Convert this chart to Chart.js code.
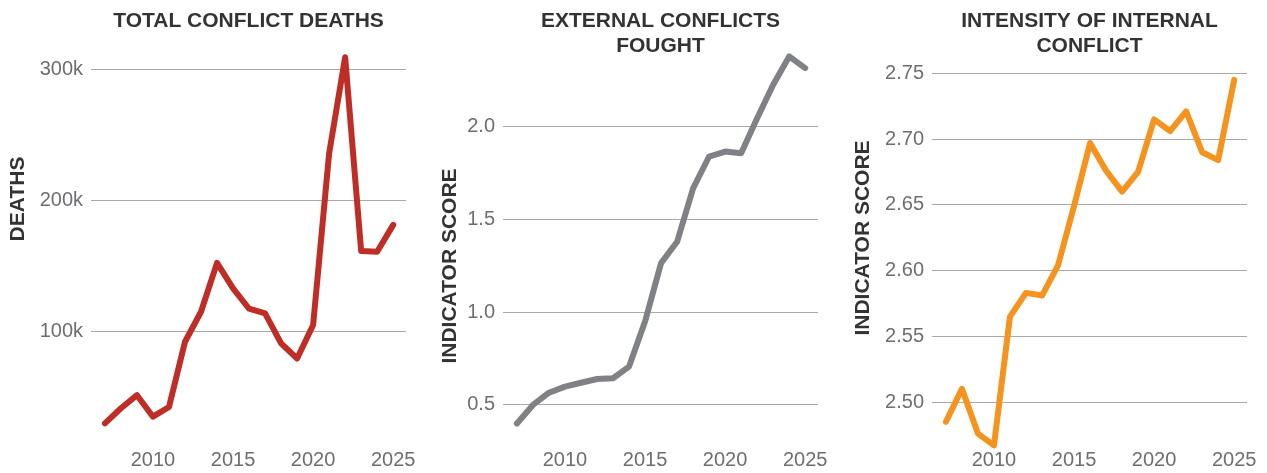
<!DOCTYPE html>
<html>
<head>
<meta charset="utf-8">
<script src="https://cdn.jsdelivr.net/npm/chart.js@4"></script>
<style>
  html, body { margin: 0; padding: 0; background: #fff; }
  body { width: 1267px; height: 473px; position: relative; overflow: hidden; }
  .panel { position: absolute; top: 0; height: 473px; }
</style>
</head>
<body>
<div class="panel" style="left:0;width:422px"><canvas id="chartDeaths"></canvas></div>
<div class="panel" style="left:422px;width:422px"><canvas id="chartExternal"></canvas></div>
<div class="panel" style="left:844px;width:423px"><canvas id="chartInternal"></canvas></div>
<script>
// ===== DATA =====
const years = [2007, 2008, 2009, 2010, 2011, 2012, 2013, 2014, 2015, 2016, 2017, 2018, 2019, 2020, 2021, 2022, 2023, 2024, 2025];
const yearTicks = [2010, 2015, 2020, 2025];

const deaths = [29500, 41000, 51000, 34600, 42000, 91800, 114700, 152000, 132600, 117000, 113500, 90600, 79000, 104600, 235600, 309000, 161000, 160500, 181000];
const externalScore = [0.40, 0.50, 0.566, 0.599, 0.62, 0.64, 0.644, 0.707, 0.95, 1.265, 1.38, 1.668, 1.84, 1.867, 1.858, 2.047, 2.227, 2.38, 2.317];
const internalScore = [2.485, 2.51, 2.476, 2.467, 2.565, 2.583, 2.581, 2.604, 2.649, 2.697, 2.676, 2.66, 2.675, 2.715, 2.706, 2.721, 2.69, 2.684, 2.745];

const deathTicks = [100000, 200000, 300000];
const externalTicks = [0.5, 1.0, 1.5, 2.0];
const internalTicks = [2.50, 2.55, 2.60, 2.65, 2.70, 2.75];

Chart.defaults.font.family = '"Liberation Sans", Arial, Helvetica, sans-serif';

// rotated axis title drawn where the original puts it
const sideLabel = {
  id: "sideLabel",
  afterDraw(chart, args, opts) {
    const ctx = chart.ctx;
    ctx.save();
    ctx.translate(opts.x, opts.y);
    ctx.rotate(-Math.PI / 2);
    ctx.font = 'bold 21px "Liberation Sans", Arial, sans-serif';
    ctx.fillStyle = "#333333";
    ctx.textAlign = "center";
    ctx.textBaseline = "middle";
    ctx.fillText(opts.text, 0, 0);
    ctx.restore();
  }
};

function makeChart(id, cfg) {
  const points = years.map((y, i) => ({ x: y, y: cfg.values[i] }));
  return new Chart(document.getElementById(id), {
    type: "line",
    data: {
      datasets: [{
        data: points,
        borderColor: cfg.color,
        borderWidth: 6,
        borderCapStyle: "round",
        borderJoinStyle: "round",
        pointRadius: 0,
        tension: 0,
        clip: false
      }]
    },
    plugins: [sideLabel],
    options: {
      responsive: true,
      maintainAspectRatio: false,
      animation: false,
      layout: { padding: { left: 0, right: cfg.right, top: 0, bottom: 0 } },
      plugins: {
        legend: { display: false },
        tooltip: { enabled: false },
        title: {
          display: true,
          text: cfg.title,
          fullSize: false,
          color: "#333333",
          font: { size: 21, weight: "bold", lineHeight: "25px" },
          padding: { top: 9, bottom: 0 }
        },
        sideLabel: { text: cfg.axisTitle, x: cfg.labelX, y: cfg.labelY }
      },
      scales: {
        x: {
          type: "linear",
          min: 2006.13,
          max: 2025.8,
          grid: { display: false, drawTicks: false },
          border: { display: false },
          afterBuildTicks: s => { s.ticks = yearTicks.map(v => ({ value: v })); },
          ticks: {
            color: "#6d6e71",
            font: { size: 20, lineHeight: 0.9 },
            padding: 4,
            maxRotation: 0,
            callback: v => String(v)
          }
        },
        y: {
          min: cfg.min,
          max: cfg.max,
          afterFit: s => { s.width = cfg.axisWidth; },
          afterBuildTicks: s => { s.ticks = cfg.ticks.map(v => ({ value: v })); },
          grid: { color: "#a7a9ac", lineWidth: 1, drawTicks: false },
          border: { display: false },
          ticks: {
            color: "#6d6e71",
            font: { size: 20 },
            padding: 8,
            callback: cfg.fmt
          }
        }
      }
    }
  });
}

makeChart("chartDeaths", {
  title: ["TOTAL CONFLICT DEATHS", ""],
  axisTitle: "DEATHS",
  values: deaths,
  ticks: deathTicks,
  color: "#bf2e26",
  min: 11450, max: 307650,
  axisWidth: 91, right: 16,
  labelX: 18, labelY: 199,
  fmt: v => (v / 1000) + "k"
});

makeChart("chartExternal", {
  title: ["EXTERNAL CONFLICTS", "FOUGHT"],
  axisTitle: "INDICATOR SCORE",
  values: externalScore,
  ticks: externalTicks,
  color: "#808184",
  min: 0.2733, max: 2.366,
  axisWidth: 81, right: 26,
  labelX: 28, labelY: 266,
  fmt: v => Number(v).toFixed(1)
});

makeChart("chartInternal", {
  title: ["INTENSITY OF INTERNAL", "CONFLICT"],
  axisTitle: "INDICATOR SCORE",
  values: internalScore,
  ticks: internalTicks,
  color: "#f5931f",
  min: 2.4658, max: 2.7609,
  axisWidth: 88, right: 20,
  labelX: 19, labelY: 238,
  fmt: v => Number(v).toFixed(2)
});
</script>
</body>
</html>
